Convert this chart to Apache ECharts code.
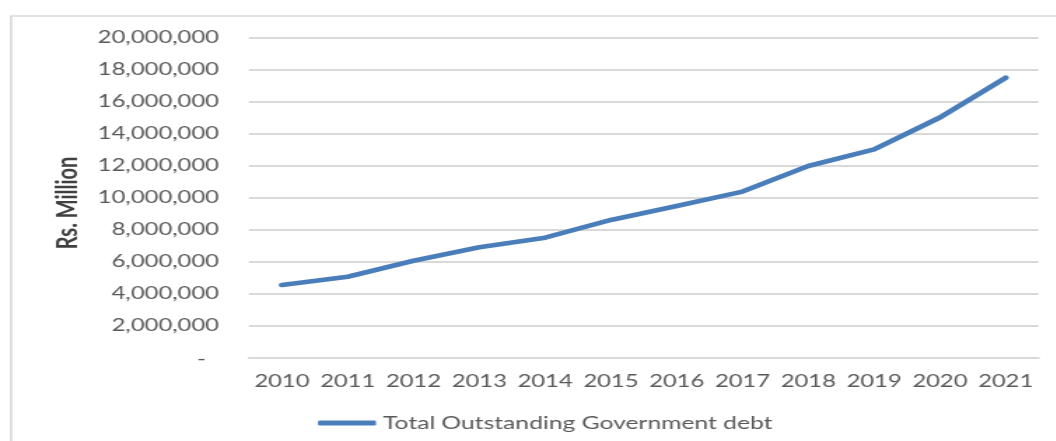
<!DOCTYPE html>
<html>
<head>
<meta charset="utf-8">
<script src="https://cdn.jsdelivr.net/npm/echarts@6/dist/echarts.min.js"></script>
<style>
  html, body { margin: 0; padding: 0; background: #fff; overflow: hidden; }
  /* the chart is laid out narrow and widened, giving the wide-set lettering */
  #chart { width: 754.2857px; height: 441px; transform: scaleX(1.4); transform-origin: 0 0; }
</style>
</head>
<body>
<div id="chart"></div>
<script>
const years = ['2010', '2011', '2012', '2013', '2014', '2015', '2016', '2017', '2018', '2019', '2020', '2021'];
const totalDebt = [4560000, 5080000, 6080000, 6920000, 7520000, 8630000, 9500000, 10400000, 12000000, 13040000, 15030000, 17520000];
const seriesName = 'Total Outstanding Government debt';
const axisTitle = 'Rs. Million';

const SX = 1.4;               // horizontal widening applied by CSS
const px = v => v / SX;       // page x-distance -> chart units

const font = 'Lato, "Open Sans", sans-serif';
const chart = echarts.init(document.getElementById('chart'));

chart.setOption({
  backgroundColor: '#ffffff',
  animation: false,
  textStyle: { fontFamily: font },
  graphic: [{
    type: 'rect',
    shape: { x: px(11), y: 16, width: 2000, height: 1000 },
    style: { fill: 'none', stroke: '#d9d9d9', lineWidth: 1.6 },
    silent: true
  }],
  grid: { left: px(249), right: px(17), top: 38, bottom: 83 },
  xAxis: {
    type: 'category',
    data: years,
    boundaryGap: true,
    axisLine: { lineStyle: { color: '#d9d9d9', width: 2 } },
    axisTick: { show: false },
    axisLabel: { color: '#595959', fontSize: 17, margin: 15, interval: 0, fontFamily: font }
  },
  yAxis: {
    type: 'value',
    min: 0,
    max: 20000000,
    interval: 2000000,
    name: axisTitle,
    nameLocation: 'middle',
    nameGap: 117,
    nameTextStyle: { color: '#404040', fontSize: 20, fontWeight: 'bold', fontFamily: font, padding: [0, 10, 0, 0] },
    axisLine: { show: false },
    axisTick: { show: false },
    splitLine: { lineStyle: { color: '#d9d9d9', width: 2 } },
    axisLabel: {
      color: '#595959',
      fontSize: 17,
      fontFamily: font,
      margin: px(30),
      formatter: v => v === 0 ? '{d|-}' : v.toLocaleString('en-US'),
      rich: { d: { color: '#595959', fontSize: 17, padding: [4, px(13), 0, 0] } }
    }
  },
  legend: {
    left: px(318) - 5,
    top: 409,
    icon: 'roundRect',
    itemWidth: px(58),
    itemHeight: 5,
    textStyle: { color: '#595959', fontSize: 17.6, fontFamily: font },
    data: [seriesName]
  },
  series: [{
    name: seriesName,
    type: 'line',
    data: totalDebt,
    symbol: 'none',
    lineStyle: { color: '#4a7ebb', width: 4.6, cap: 'round', join: 'round' },
    itemStyle: { color: '#4a7ebb' }
  }]
});
</script>
</body>
</html>
